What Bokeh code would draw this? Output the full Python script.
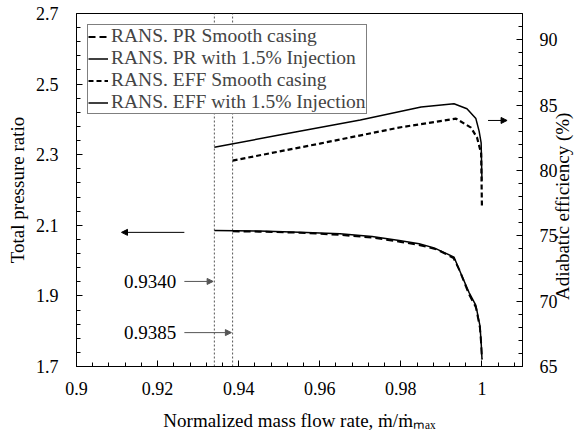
import math
from bokeh.plotting import figure
from bokeh.models import (Range1d, LinearAxis, FixedTicker, CustomJSTickFormatter,
                          Label, Arrow, NormalHead, Legend, LegendItem)
from bokeh.embed import file_html
from bokeh.resources import INLINE

FONT = "Liberation Serif"

# ---- data ----
pr_inj_x = [0.934, 0.945, 0.955, 0.965, 0.9729, 0.9796, 0.9845, 0.9882, 0.9931, 0.9943, 0.9968, 0.9985, 0.9995, 0.9998, 1.0]
pr_inj_y = [2.085, 2.084, 2.080, 2.076, 2.068, 2.057, 2.048, 2.036, 2.010, 1.977, 1.910, 1.873, 1.816, 1.769, 1.722]

pr_sm_x = [0.9385, 0.945, 0.955, 0.965, 0.973, 0.98, 0.985, 0.989, 0.993, 0.9945, 0.9968, 0.9985, 0.9995, 0.9998, 1.0]
pr_sm_y = [2.083, 2.082, 2.079, 2.073, 2.065, 2.053, 2.043, 2.031, 2.007, 1.972, 1.905, 1.868, 1.810, 1.765, 1.720]

eff_inj_x = [0.934, 0.95, 0.97, 0.985, 0.9931, 0.9963, 0.9985, 0.9993, 0.9998, 1.0]
eff_inj_y = [81.77, 82.70, 83.86, 84.85, 85.10, 84.72, 83.96, 83.00, 82.10, 79.20]

eff_sm_x = [0.9385, 0.96, 0.98, 0.9936, 0.9973, 0.9988, 0.9998, 1.0]
eff_sm_y = [80.75, 82.05, 83.30, 83.96, 83.27, 82.50, 81.30, 77.10]

stall_x = [0.934, 0.9385]
stall_labels = ["0.9340", "0.9385"]

x_ticks = [0.9, 0.92, 0.94, 0.96, 0.98, 1.0]
y_ticks = [1.7, 1.9, 2.1, 2.3, 2.5, 2.7]
eff_ticks = [65, 70, 75, 80, 85, 90]

legend_labels = ["RANS. PR Smooth casing", "RANS. PR with 1.5% Injection",
                 "RANS. EFF Smooth casing", "RANS. EFF with 1.5% Injection"]

# ---- figure ----
p = figure(width=586, height=433, output_backend="svg", toolbar_location=None,
           x_range=Range1d(0.9, 1.01), y_range=Range1d(1.7, 2.7),
           min_border_left=76, min_border_right=63, min_border_top=13, min_border_bottom=67)
p.extra_y_ranges = {"eff": Range1d(65, 92)}
p.xgrid.visible = False
p.ygrid.visible = False
p.outline_line_color = "black"
p.outline_line_width = 1
p.background_fill_color = "white"
p.border_fill_color = "white"

fmt = CustomJSTickFormatter(code="return String(Math.round(tick*10000)/10000);")


def minor(ticks):
    out = []
    for a, b in zip(ticks[:-1], ticks[1:]):
        for k in range(1, 5):
            out.append(a + (b - a) * k / 5)
    return out


def style(ax):
    ax.major_tick_in = 6
    ax.major_tick_out = 0
    ax.minor_tick_in = 4
    ax.minor_tick_out = 0
    ax.axis_line_color = "black"
    ax.major_tick_line_color = "black"
    ax.minor_tick_line_color = "black"
    ax.major_label_text_font = FONT
    ax.major_label_text_font_size = "18px"
    ax.major_label_text_color = "black"
    ax.axis_label_text_font = FONT
    ax.axis_label_text_font_size = "19px"
    ax.axis_label_text_font_style = "normal"
    ax.axis_label_text_color = "black"


xa = p.xaxis[0]
style(xa)
xa.ticker = FixedTicker(ticks=x_ticks, minor_ticks=minor(x_ticks + [1.02]))
xa.formatter = fmt
xa.major_label_standoff = 15
xa.axis_label = "Normalized mass flow rate, ṁ/ṁₘₐₓ"
xa.axis_label_standoff = 12

ya = p.yaxis[0]
style(ya)
ya.ticker = FixedTicker(ticks=y_ticks, minor_ticks=minor(y_ticks))
ya.formatter = fmt
ya.major_label_standoff = 18
ya.axis_label = "Total pressure ratio"
ya.axis_label_standoff = 5

NB = "\u00a0"
ra = LinearAxis(y_range_name="eff", axis_label=NB * 14 + "Adiabatic efficiency (%)")
style(ra)
ra.ticker = FixedTicker(ticks=eff_ticks, minor_ticks=minor(eff_ticks + [95]))
ra.formatter = fmt
ra.major_label_standoff = 17
ra.axis_label_standoff = 2
ra.axis_label_orientation = math.pi / 2
ra.axis_label_align = "start"
p.add_layout(ra, "right")

# stall lines
p.segment(x0=stall_x, y0=[1.7, 1.7], x1=stall_x, y1=[2.7, 2.7],
          line_color="#555555", line_width=1, line_dash="2 2")

# curves
r2 = p.line(pr_inj_x, pr_inj_y, line_color="black", line_width=1.5)
r1 = p.line(pr_sm_x, pr_sm_y, line_color="black", line_width=2, line_dash="7 4")
r4 = p.line(eff_inj_x, eff_inj_y, y_range_name="eff", line_color="black", line_width=1.5)
r3 = p.line(eff_sm_x, eff_sm_y, y_range_name="eff", line_color="black", line_width=2.2, line_dash="5 3")

legend = Legend(items=[LegendItem(label=legend_labels[0], renderers=[r1]),
                       LegendItem(label=legend_labels[1], renderers=[r2]),
                       LegendItem(label=legend_labels[2], renderers=[r3]),
                       LegendItem(label=legend_labels[3], renderers=[r4])],
                location="top_left", margin=11, padding=0, spacing=0,
                label_height=21, glyph_height=21, glyph_width=20, label_standoff=3,
                label_text_font=FONT, label_text_font_size="19.5px",
                border_line_color="black", border_line_width=1,
                background_fill_color="white", background_fill_alpha=1.0)
p.add_layout(legend)

# arrows
head = lambda c: NormalHead(size=6, fill_color=c, line_color=c)
p.add_layout(Arrow(end=head("black"), x_start=0.9266, y_start=2.080, x_end=0.9111, y_end=2.080,
                   line_color="black", line_width=1))
p.add_layout(Arrow(end=head("black"), x_start=1.0015, y_start=2.397, x_end=1.0062, y_end=2.397,
                   line_color="black", line_width=1))
label_y = [1.941, 1.796]
for sx, txt, ly in zip(stall_x, stall_labels, label_y):
    p.add_layout(Arrow(end=head("#555555"), x_start=0.9266, y_start=ly, x_end=sx - 0.0003, y_end=ly,
                       line_color="#555555", line_width=1))
    p.add_layout(Label(x=0.9246, y=ly, text=txt, text_align="right", text_baseline="middle",
                       text_font=FONT, text_font_size="19px", text_color="black"))

open("out.html", "w").write(file_html(p, INLINE))
